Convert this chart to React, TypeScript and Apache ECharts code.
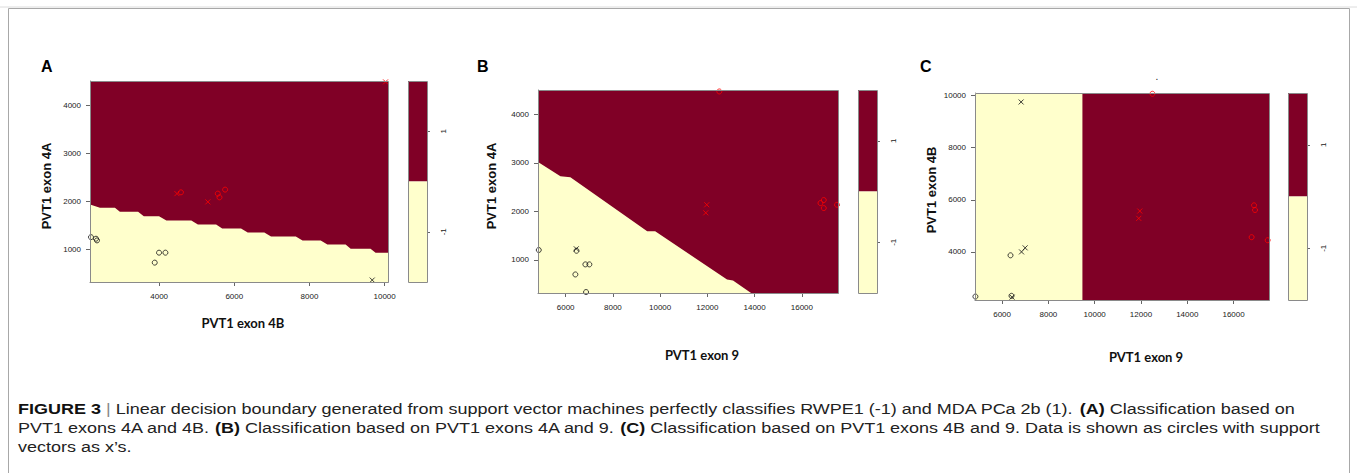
import React, { useEffect, useRef } from "react";
import * as echarts from "echarts";

// ---------- colours ----------
const RED_FILL = "#800026";
const YELLOW_FILL = "#FFFFCC";
const POS_COLOR = "#ff0000";
const NEG_COLOR = "#111111";

// ---------- axis ranges (data units) ----------
const exon4ARange = [320, 4500];
const exon4BRange = [2160, 10090];
const exon9Range = [4830, 17530];
const keyRange = [-2, 2];

// ---------- tick labels ----------
const aXTicks = [4000, 6000, 8000, 10000];
const aYTicks = [1000, 2000, 3000, 4000];
const bXTicks = [6000, 8000, 10000, 12000, 14000, 16000];
const bYTicks = [1000, 2000, 3000, 4000];
const cXTicks = [6000, 8000, 10000, 12000, 14000, 16000];
const cYTicks = [4000, 6000, 8000, 10000];
const keyTicks = [-1, 1];
const keyValues = [2, -2];

// ---------- Panel A: x = exon 4B, y = exon 4A ----------
const aBoundary = [
  [2160, 1930], [2425, 1862], [2823, 1862], [2955, 1779], [3440, 1779],
  [3592, 1688], [3997, 1688], [4193, 1599], [4856, 1599], [5031, 1516],
  [5516, 1516], [5678, 1433], [6179, 1433], [6357, 1350], [6799, 1350],
  [6977, 1268], [7637, 1268], [7815, 1185], [8300, 1185], [8477, 1102],
  [8962, 1102], [9096, 1013], [9625, 1013], [9760, 930], [10090, 930],
];
const aPosData = [[4580, 2185], [5561, 2158], [5606, 2081], [5755, 2241]];
const aPosSV = [[4474, 2158], [5296, 1986], [10025, 4482]];
const aNegData = [[2186, 1253], [2319, 1220], [2346, 1185], [3997, 930], [4167, 930], [3883, 723]];
const aNegSV = [[9670, 360]];

// ---------- Panel B: x = exon 9, y = exon 4A ----------
const bBoundary = [
  [4830, 3020], [5779, 2725], [6201, 2704], [9453, 1590], [9791, 1590],
  [12832, 599], [13085, 578], [13850, 320],
];
const bPosData = [[12506, 4470], [16788, 2172], [16928, 2234], [16928, 2069], [17488, 2137]];
const bPosSV = [[11974, 2137], [11932, 1971]];
const bNegData = [[4863, 1205], [6460, 1190], [6835, 909], [7004, 909], [6412, 702], [6864, 340]];
const bNegSV = [[6450, 1230]];

// ---------- Panel C: x = exon 9, y = exon 4B ----------
const cBoundary = [[4830, 10090], [9470, 10090]];
const cPosData = [[12494, 10060], [16883, 5788], [16926, 5607], [16780, 4566], [17473, 4450]];
const cPosSV = [[11948, 5568], [11904, 5287]];
const cNegData = [[6364, 3872], [6407, 2319], [4848, 2292]];
const cNegSV = [[6822, 9746], [6840, 4003], [6996, 4157], [6430, 2270]];

// ---------- texts ----------
const panelLetters = ["A", "B", "C"];
const xTitles = ["PVT1 exon 4B", "PVT1 exon 9", "PVT1 exon 9"];
const yTitles = ["PVT1 exon 4A", "PVT1 exon 4A", "PVT1 exon 4B"];
const captionLines = [
  "{b|FIGURE 3} {g||} Linear decision boundary generated from support vector machines perfectly classifies RWPE1 (-1) and MDA PCa 2b (1). {b|(A)} Classification based on",
  "PVT1 exons 4A and 4B. {b|(B)} Classification based on PVT1 exons 4A and 9. {b|(C)} Classification based on PVT1 exons 4B and 9. Data is shown as circles with support",
  "vectors as x\u2019s.",
];

// ---------- layout (pixels) ----------
const layouts = [
  { plot: [90, 81, 298, 201], key: [408, 81, 19, 201], letter: [41, 66], xt: [243, 323], yt: [46, 186] },
  { plot: [538, 90, 300, 203], key: [858, 90, 19, 203], letter: [477, 66], xt: [702, 355], yt: [491, 186] },
  { plot: [975, 93, 294, 207], key: [1288, 93, 19, 207], letter: [920, 66], xt: [1146, 357], yt: [931, 190] },
];

const panels = [
  { xr: exon4BRange, yr: exon4ARange, xt: aXTicks, yt: aYTicks, boundary: aBoundary, posData: aPosData, posSV: aPosSV, negData: aNegData, negSV: aNegSV },
  { xr: exon9Range, yr: exon4ARange, xt: bXTicks, yt: bYTicks, boundary: bBoundary, posData: bPosData, posSV: bPosSV, negData: bNegData, negSV: bNegSV },
  { xr: exon9Range, yr: exon4BRange, xt: cXTicks, yt: cYTicks, boundary: cBoundary, posData: cPosData, posSV: cPosSV, negData: cNegData, negSV: cNegSV },
];

const FONT = "Liberation Sans, Arial, sans-serif";
const TICK_FONT = { fontSize: 8, color: "#222", fontFamily: FONT };
const X_PATH = "path://M0,0L10,10M10,0L0,10";
const plain = (v: number) => String(v);

function buildOption() {
  const grid: any[] = [];
  const xAxis: any[] = [];
  const yAxis: any[] = [];
  const series: any[] = [];
  const graphic: any[] = [];

  panels.forEach((p, i) => {
    const L = layouts[i];
    const gi = grid.length;
    grid.push({
      left: L.plot[0], top: L.plot[1], width: L.plot[2], height: L.plot[3],
      show: true, backgroundColor: RED_FILL, borderWidth: 0, containLabel: false, outerBoundsMode: "none",
    });
    xAxis.push({
      type: "value", gridIndex: gi, min: p.xr[0], max: p.xr[1],
      axisLine: { show: true, lineStyle: { color: "#888", width: 1 } },
      axisTick: { show: true, length: 4, lineStyle: { color: "#666" }, customValues: p.xt },
      axisLabel: { ...TICK_FONT, margin: 10, customValues: p.xt, formatter: plain },
      splitLine: { show: false },
    });
    yAxis.push({
      type: "value", gridIndex: gi, min: p.yr[0], max: p.yr[1],
      axisLine: { show: true, lineStyle: { color: "#888", width: 1 } },
      axisTick: { show: true, length: 4, lineStyle: { color: "#666" }, customValues: p.yt },
      axisLabel: { ...TICK_FONT, margin: 9, customValues: p.yt, formatter: plain },
      splitLine: { show: false },
    });
    series.push({
      type: "line", xAxisIndex: gi, yAxisIndex: gi, data: p.boundary,
      symbol: "none", silent: true, clip: true,
      lineStyle: { width: 0, color: YELLOW_FILL },
      areaStyle: { color: YELLOW_FILL, opacity: 1, origin: "start" },
      z: 1,
    });
    const pt = (data: number[][], color: string, cross: boolean) => ({
      type: "scatter", xAxisIndex: gi, yAxisIndex: gi, data,
      symbol: cross ? X_PATH : "circle", symbolSize: 5,
      itemStyle: { color: "transparent", borderColor: color, borderWidth: 1 },
      silent: true, z: 3,
    });
    series.push(pt(p.posData, POS_COLOR, false));
    series.push(pt(p.posSV, POS_COLOR, true));
    series.push(pt(p.negData, NEG_COLOR, false));
    series.push(pt(p.negSV, NEG_COLOR, true));

    // colour key
    const ki = grid.length;
    grid.push({
      left: L.key[0], top: L.key[1], width: L.key[2], height: L.key[3],
      show: false, containLabel: false, outerBoundsMode: "none",
    });
    xAxis.push({ type: "category", gridIndex: ki, data: ["key"], show: false, boundaryGap: true });
    yAxis.push({
      type: "value", gridIndex: ki, min: keyRange[0], max: keyRange[1], position: "right",
      axisLine: { show: false },
      axisTick: { show: true, length: 3, lineStyle: { color: "#666" }, customValues: keyTicks },
      axisLabel: { ...TICK_FONT, rotate: 90, margin: 12, customValues: keyTicks, formatter: plain },
      splitLine: { show: false },
    });
    series.push({
      type: "bar", xAxisIndex: ki, yAxisIndex: ki, data: [keyValues[0]],
      barWidth: "100%", itemStyle: { color: RED_FILL }, silent: true,
    });
    series.push({
      type: "bar", xAxisIndex: ki, yAxisIndex: ki, data: [keyValues[1]],
      barWidth: "100%", barGap: "-100%", itemStyle: { color: YELLOW_FILL }, silent: true,
    });

    // frames
    graphic.push({
      type: "rect", z: 10, silent: true,
      shape: { x: L.plot[0] + 0.5, y: L.plot[1] + 0.5, width: L.plot[2], height: L.plot[3] },
      style: { fill: "none", stroke: "#8a8a8a", lineWidth: 1 },
    });
    graphic.push({
      type: "rect", z: 10, silent: true,
      shape: { x: L.key[0] + 0.5, y: L.key[1] + 0.5, width: L.key[2], height: L.key[3] },
      style: { fill: "none", stroke: "#8a8a8a", lineWidth: 1 },
    });
    // letters and titles
    graphic.push({
      type: "text", x: L.letter[0], y: L.letter[1], z: 10,
      style: { text: panelLetters[i], fontSize: 16, fontWeight: "bold", fontFamily: FONT, fill: "#000", textAlign: "left", textVerticalAlign: "middle" },
    });
    graphic.push({
      type: "text", x: L.xt[0], y: L.xt[1], z: 10,
      style: { text: xTitles[i], fontSize: 13, fontWeight: "bold", fontFamily: "Lato, sans-serif", fill: "#111", textAlign: "center", textVerticalAlign: "middle" },
    });
    graphic.push({
      type: "text", x: L.yt[0], y: L.yt[1], z: 10, rotation: Math.PI / 2,
      style: { text: yTitles[i], fontSize: 13, fontWeight: "bold", fontFamily: FONT, fill: "#111", textAlign: "center", textVerticalAlign: "middle" },
    });
  });

  // stray dot above panel C
  graphic.push({
    type: "text", x: 1157, y: 76, z: 10,
    style: { text: ".", fontSize: 10, fontFamily: FONT, fill: "#222", textAlign: "center", textVerticalAlign: "middle" },
  });

  // figure frame
  graphic.push({
    type: "rect", z: 0, silent: true,
    shape: { x: 8.5, y: 8.5, width: 1341, height: 480 },
    style: { fill: "none", stroke: "#a8a8a8", lineWidth: 1 },
  });
  graphic.push({
    type: "line", z: 0, silent: true,
    shape: { x1: 0, y1: 7, x2: 1357, y2: 7 },
    style: { stroke: "#dcdcdc", lineWidth: 1 },
  });

  // caption
  const capY = [409, 428, 447];
  captionLines.forEach((t, k) => {
    graphic.push({
      type: "text", x: 18, y: capY[k], z: 10, scaleX: 1.2, scaleY: 1,
      style: {
        text: t, fontSize: 15, fontFamily: FONT, fill: "#222",
        textAlign: "left", textVerticalAlign: "middle",
        rich: {
          b: { fontSize: 15, fontWeight: "bold", fontFamily: FONT, fill: "#111" },
          g: { fontSize: 15, fontFamily: FONT, fill: "#888" },
        },
      },
    });
  });

  return {
    animation: false,
    backgroundColor: "#ffffff",
    grid, xAxis, yAxis, series, graphic,
  };
}

export default function App() {
  const ref = useRef<HTMLDivElement>(null);
  useEffect(() => {
    document.body.style.margin = "0";
    if (!ref.current) return;
    const chart = echarts.init(ref.current, null, { renderer: "svg" });
    chart.setOption(buildOption() as any);
    return () => chart.dispose();
  }, []);
  return <div ref={ref} style={{ width: 1357, height: 473 }} />;
}
